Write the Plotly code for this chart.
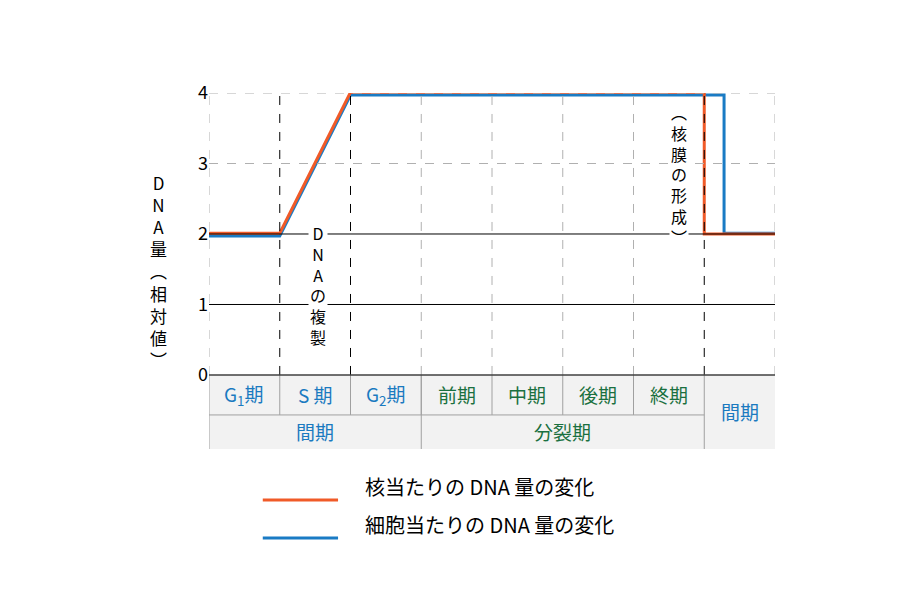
import plotly.graph_objects as go

nuc_x = [0, 1, 2, 7, 7, 8]
nuc_y = [2.01, 2.01, 4.01, 4.01, 2.0, 2.0]
cell_x = [0, 1, 2, 7.28, 7.28, 8]
cell_y = [1.97, 1.97, 3.97, 3.97, 2.01, 2.01]
row1_labels = ["G<sub>1</sub>期", "S 期", "G<sub>2</sub>期", "前期", "中期", "後期", "終期"]
row1_colors = ["#1a7ac0"] * 3 + ["#1a7040"] * 4
row2_labels = [("間期", 0, 3, "#1a7ac0"), ("分裂期", 3, 7, "#1a7040")]
legend_names = ["核当たりの DNA 量の変化", "細胞当たりの DNA 量の変化"]
ORANGE, BLUE = "#f05a28", "#1a7bc4"
FONT = "Noto Sans CJK JP"

fig = go.Figure()
shapes = []
ann = []
R1 = -0.567
BOT = -1.05
for x in [0, 3, 4, 5, 6, 8]:
    shapes.append(dict(type="line", x0=x, x1=x, y0=0, y1=4, line=dict(color="#b0b0b0", width=1, dash="dash")))
for x in [1, 2, 7]:
    shapes.append(dict(type="line", x0=x, x1=x, y0=0, y1=4, line=dict(color="black", width=1, dash="dash")))
for y in [3, 4]:
    shapes.append(dict(type="line", x0=0, x1=8, y0=y, y1=y, line=dict(color="#b0b0b0", width=1, dash="dash")))
for y in [1, 2]:
    shapes.append(dict(type="line", x0=0, x1=8, y0=y, y1=y, line=dict(color="black", width=1)))
shapes.append(dict(type="rect", x0=0, x1=8, y0=BOT, y1=0, fillcolor="#f2f2f2", line=dict(width=0), layer="below"))
for x in range(1, 7):
    shapes.append(dict(type="line", x0=x, x1=x, y0=R1, y1=0, line=dict(color="#a0a0a0", width=1)))
for x in [0, 3, 7]:
    shapes.append(dict(type="line", x0=x, x1=x, y0=BOT, y1=0, line=dict(color="#a0a0a0", width=1)))
shapes.append(dict(type="line", x0=0, x1=7, y0=R1, y1=R1, line=dict(color="#a0a0a0", width=1)))
shapes.append(dict(type="line", x0=0, x1=8, y0=0, y1=0, line=dict(color="#404040", width=1.5)))
for i, (t, c) in enumerate(zip(row1_labels, row1_colors)):
    ann.append(dict(x=i + 0.5, y=R1 / 2, text=t, showarrow=False, font=dict(size=19, color=c, family=FONT)))
for t, a, b, c in row2_labels:
    ann.append(dict(x=(a + b) / 2, y=(R1 + BOT) / 2, text=t, showarrow=False, font=dict(size=19, color=c, family=FONT)))
ann.append(dict(x=7.5, y=BOT / 2, text="間期", showarrow=False, font=dict(size=19, color="#1a7ac0", family=FONT)))
ann.append(dict(x=1.54, y=1.27, text="<br>".join("DNAの複製"), showarrow=False, bgcolor="white",
                font=dict(size=16, color="black", family=FONT), yanchor="middle"))
ann.append(dict(x=6.65, y=2.85, text="<br>".join("︵核膜の形成︶"), showarrow=False, bgcolor="white",
                font=dict(size=16, color="black", family=FONT), yanchor="middle"))
ann.append(dict(xref="paper", yref="paper", x=-0.09, y=0.79, text="<br>".join("DNA量︵相対値︶"), showarrow=False,
                font=dict(size=17, color="black", family=FONT), yanchor="top", xanchor="center"))
for name, col, yp in [(legend_names[0], ORANGE, -0.143), (legend_names[1], BLUE, -0.25)]:
    shapes.append(dict(type="line", xref="paper", yref="paper", x0=0.095, x1=0.228, y0=yp, y1=yp, line=dict(color=col, width=3)))
    ann.append(dict(xref="paper", yref="paper", x=0.272, y=yp - 0.008, text=name, showarrow=False, xanchor="left",
                    font=dict(size=20, color="black", family=FONT)))

fig.add_trace(go.Scatter(x=cell_x, y=cell_y, mode="lines", line=dict(color=BLUE, width=3), showlegend=False))
fig.add_trace(go.Scatter(x=nuc_x, y=nuc_y, mode="lines", line=dict(color=ORANGE, width=3), showlegend=False))

fig.update_layout(width=900, height=598, margin=dict(l=201, r=133, t=85, b=157, autoexpand=False),
                  plot_bgcolor="white", paper_bgcolor="white", shapes=shapes, annotations=ann,
                  font=dict(family=FONT))
fig.update_xaxes(range=[0, 8], showgrid=False, zeroline=False, showticklabels=False, automargin=False)
fig.update_yaxes(range=[BOT, 4], showgrid=False, zeroline=False, tickvals=[0, 1, 2, 3, 4],
                 tickfont=dict(size=18, color="black"), ticks="", automargin=False)
fig.write_html("out.html")
